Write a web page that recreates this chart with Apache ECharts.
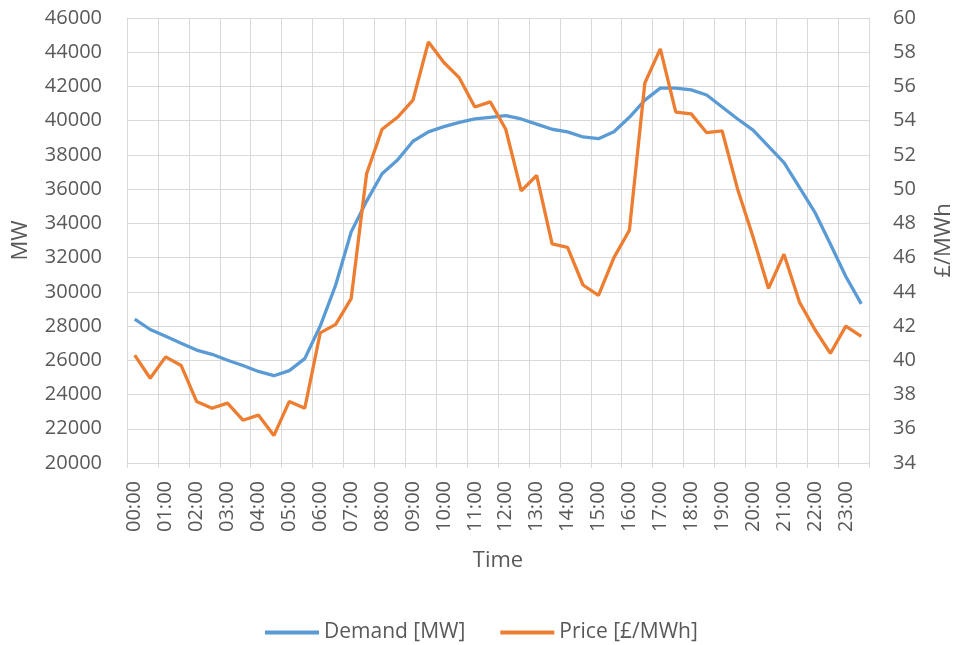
<!DOCTYPE html>
<html>
<head>
<meta charset="utf-8">
<script src="https://cdn.jsdelivr.net/npm/echarts@6/dist/echarts.min.js"></script>
<style>html,body{margin:0;padding:0;background:#fff;}#chart{width:958px;height:645px;}</style>
</head>
<body>
<div id="chart"></div>
<script>
var times = ["00:00","00:30","01:00","01:30","02:00","02:30","03:00","03:30","04:00","04:30","05:00","05:30",
"06:00","06:30","07:00","07:30","08:00","08:30","09:00","09:30","10:00","10:30","11:00","11:30",
"12:00","12:30","13:00","13:30","14:00","14:30","15:00","15:30","16:00","16:30","17:00","17:30",
"18:00","18:30","19:00","19:30","20:00","20:30","21:00","21:30","22:00","22:30","23:00","23:30"];
var demand = [28400, 27800, 27400, 27000, 26600, 26350, 26000, 25700, 25350, 25100, 25400, 26100,
28000, 30400, 33500, 35300, 36900, 37700, 38800, 39350, 39650, 39900, 40100, 40200,
40300, 40100, 39800, 39500, 39350, 39050, 38950, 39350, 40200, 41200, 41900, 41900,
41800, 41500, 40800, 40100, 39450, 38500, 37550, 36100, 34650, 32800, 30900, 29300];
var price = [40.3, 38.95, 40.2, 39.7, 37.6, 37.2, 37.5, 36.5, 36.8, 35.6, 37.6, 37.2,
41.6, 42.1, 43.6, 50.9, 53.5, 54.2, 55.2, 58.6, 57.4, 56.5, 54.8, 55.1,
53.5, 49.9, 50.8, 46.8, 46.6, 44.4, 43.8, 46.0, 47.6, 56.2, 58.2, 54.5,
54.4, 53.3, 53.4, 50.0, 47.2, 44.2, 46.2, 43.4, 41.8, 40.4, 42.0, 41.4];
var seriesNames = ["Demand [MW]", "Price [£/MWh]"];
var leftAxisName = "MW", rightAxisName = "£/MWh", xAxisName = "Time";

var FONT = "Open Sans";
var TXT = "#595959";
var GRID = "#d9d9d9";
var plain = function (v) { return String(v); };
var chart = echarts.init(document.getElementById('chart'), null, {renderer: 'canvas'});
chart.setOption({
  animation: false,
  backgroundColor: '#fff',
  textStyle: {fontFamily: FONT, color: TXT},
  grid: {left: 127, right: 89, top: 18, bottom: 182, containLabel: false, outerBoundsMode: 'none'},
  legend: {
    data: seriesNames,
    top: 617,
    left: 260,
    icon: 'rect',
    itemWidth: 54,
    itemHeight: 4,
    itemGap: 35,
    textStyle: {fontFamily: FONT, fontSize: 21, color: TXT}
  },
  xAxis: {
    type: 'category',
    data: times,
    boundaryGap: true,
    name: xAxisName,
    nameLocation: 'middle',
    nameGap: 87,
    nameTextStyle: {fontFamily: FONT, fontSize: 22, color: TXT},
    axisLine: {show: true, lineStyle: {color: GRID, width: 1}},
    axisTick: {show: true, interval: 1, length: 5, lineStyle: {color: GRID}},
    axisLabel: {interval: 1, rotate: 90, margin: 18, fontFamily: FONT, fontSize: 20, color: TXT},
    splitLine: {show: true, interval: 1, lineStyle: {color: GRID, width: 1}}
  },
  yAxis: [{
    type: 'value',
    min: 20000, max: 46000, interval: 2000,
    name: leftAxisName,
    nameLocation: 'middle',
    nameRotate: 90,
    nameGap: 95,
    nameTextStyle: {fontFamily: FONT, fontSize: 22, color: TXT},
    axisLine: {show: true, lineStyle: {color: GRID}},
    axisTick: {show: false},
    axisLabel: {margin: 25, fontFamily: FONT, fontSize: 20, color: TXT, formatter: plain},
    splitLine: {show: true, lineStyle: {color: GRID, width: 1}}
  }, {
    type: 'value',
    min: 34, max: 60, interval: 2,
    name: rightAxisName,
    nameLocation: 'middle',
    nameRotate: 90,
    nameGap: 64,
    nameTextStyle: {fontFamily: FONT, fontSize: 22, color: TXT},
    axisLine: {show: true, lineStyle: {color: GRID}},
    axisTick: {show: false},
    axisLabel: {margin: 24, fontFamily: FONT, fontSize: 20, color: TXT, formatter: plain},
    splitLine: {show: false}
  }],
  series: [{
    name: seriesNames[0],
    type: 'line',
    yAxisIndex: 0,
    data: demand,
    symbol: 'none',
    lineStyle: {color: '#5B9BD5', width: 3.3},
    itemStyle: {color: '#5B9BD5'}
  }, {
    name: seriesNames[1],
    type: 'line',
    yAxisIndex: 1,
    data: price,
    symbol: 'none',
    lineStyle: {color: '#ED7D31', width: 3.3},
    itemStyle: {color: '#ED7D31'}
  }]
});
</script>
</body>
</html>
